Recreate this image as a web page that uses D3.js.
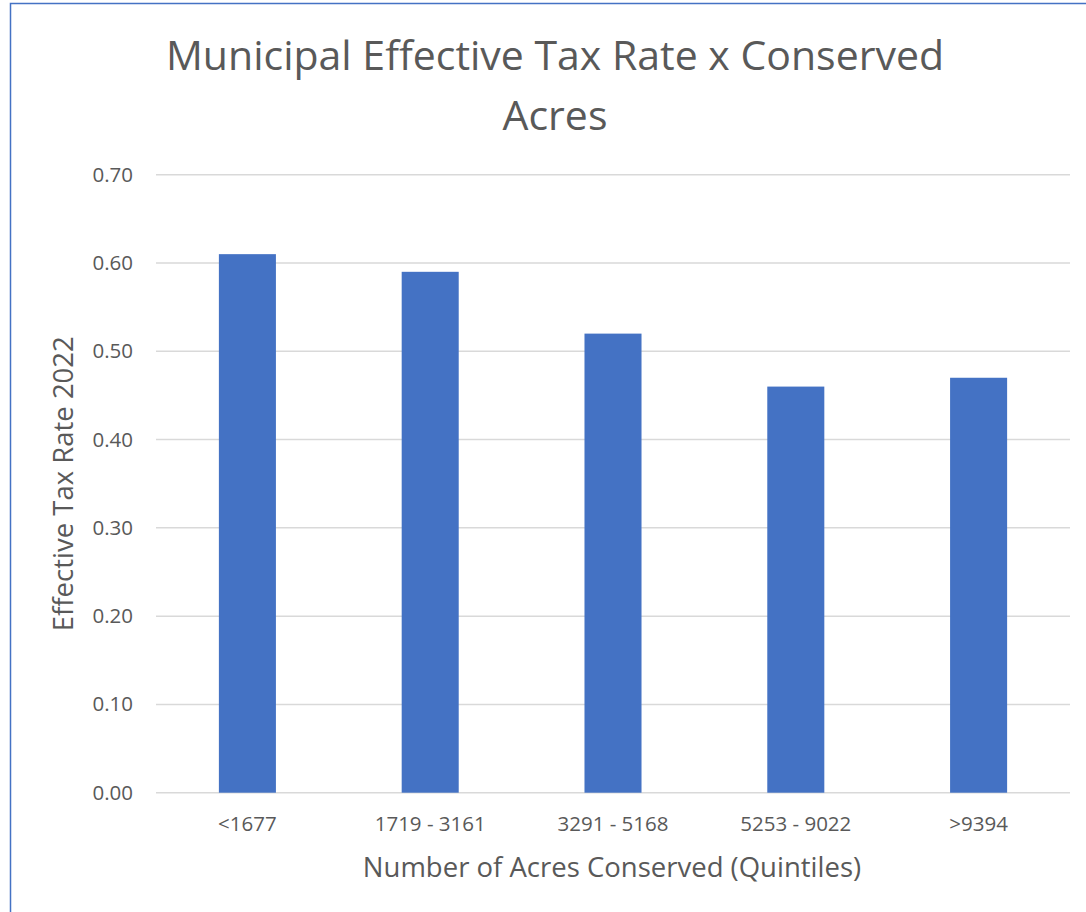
<!DOCTYPE html>
<html>
<head>
<meta charset="utf-8">
<script src="https://cdn.jsdelivr.net/npm/d3@7"></script>
<style>
  html, body { margin: 0; padding: 0; background: #fff; }
  svg { display: block; }
  text { font-family: "Open Sans", "Noto Sans", sans-serif; fill: #595959; }
</style>
</head>
<body>
<svg id="chart" width="1086" height="912"></svg>
<script>
const categories = ["<1677", "1719 - 3161", "3291 - 5168", "5253 - 9022", ">9394"];
const values = [0.61, 0.59, 0.52, 0.46, 0.47];
const yTicks = [0, 0.1, 0.2, 0.3, 0.4, 0.5, 0.6, 0.7];
const titleLines = ["Municipal Effective Tax Rate x Conserved", "Acres"];
const xTitle = "Number of Acres Conserved (Quintiles)";
const yTitle = "Effective Tax Rate 2022";

const svg = d3.select("#chart");
const plot = { left: 156, right: 1070, top: 174.7, bottom: 792.7 };

// chart border
svg.append("rect")
  .attr("x", 10.5).attr("y", 3.5)
  .attr("width", 1200).attr("height", 1200)
  .attr("fill", "none").attr("stroke", "#4472c4").attr("stroke-width", 1.5);

const x = d3.scaleBand()
  .domain(categories)
  .range([plot.left, plot.right])
  .paddingInner(0.688)
  .paddingOuter(0.344);

const y = d3.scaleLinear().domain([0, 0.7]).range([plot.bottom, plot.top]);

const yAxis = d3.axisLeft(y)
  .tickValues(yTicks)
  .tickFormat(d3.format(".2f"))
  .tickSize(0)
  .tickPadding(23);

const gy = svg.append("g").attr("transform", `translate(${plot.left},0)`).call(yAxis);
gy.select(".domain").remove();
gy.selectAll(".tick text").attr("font-size", 20.5).attr("fill", "#595959")
  .style("font-family", '"Open Sans", sans-serif');

// gridlines
svg.append("g").selectAll("line").data(yTicks).join("line")
  .attr("x1", plot.left).attr("x2", plot.right)
  .attr("y1", d => y(d)).attr("y2", d => y(d))
  .attr("stroke", "#d9d9d9").attr("stroke-width", 1.5);

// bars
svg.append("g").selectAll("rect").data(values).join("rect")
  .attr("x", (d, i) => x(categories[i]))
  .attr("y", d => y(d))
  .attr("width", x.bandwidth())
  .attr("height", d => y(0) - y(d))
  .attr("fill", "#4472c4");

// x axis
const xAxis = d3.axisBottom(x).tickSize(0).tickPadding(23.3);
const gx = svg.append("g").attr("transform", `translate(0,${plot.bottom})`).call(xAxis);
gx.select(".domain").remove();
gx.selectAll(".tick text").attr("font-size", 20.5).attr("fill", "#595959")
  .style("font-family", '"Open Sans", sans-serif');

// title
svg.append("text")
  .attr("x", 555).attr("y", 70)
  .attr("text-anchor", "middle")
  .attr("font-size", 41)
  .selectAll("tspan").data(titleLines).join("tspan")
  .attr("x", 555).attr("dy", (d, i) => i === 0 ? 0 : 60)
  .text(d => d);

// axis titles
svg.append("text")
  .attr("x", 612).attr("y", 877)
  .attr("text-anchor", "middle")
  .attr("font-size", 27.5)
  .text(xTitle);

svg.append("text")
  .attr("transform", `translate(73,${(plot.top + plot.bottom) / 2}) rotate(-90)`)
  .attr("text-anchor", "middle")
  .attr("font-size", 27.5)
  .text(yTitle);
</script>
</body>
</html>
